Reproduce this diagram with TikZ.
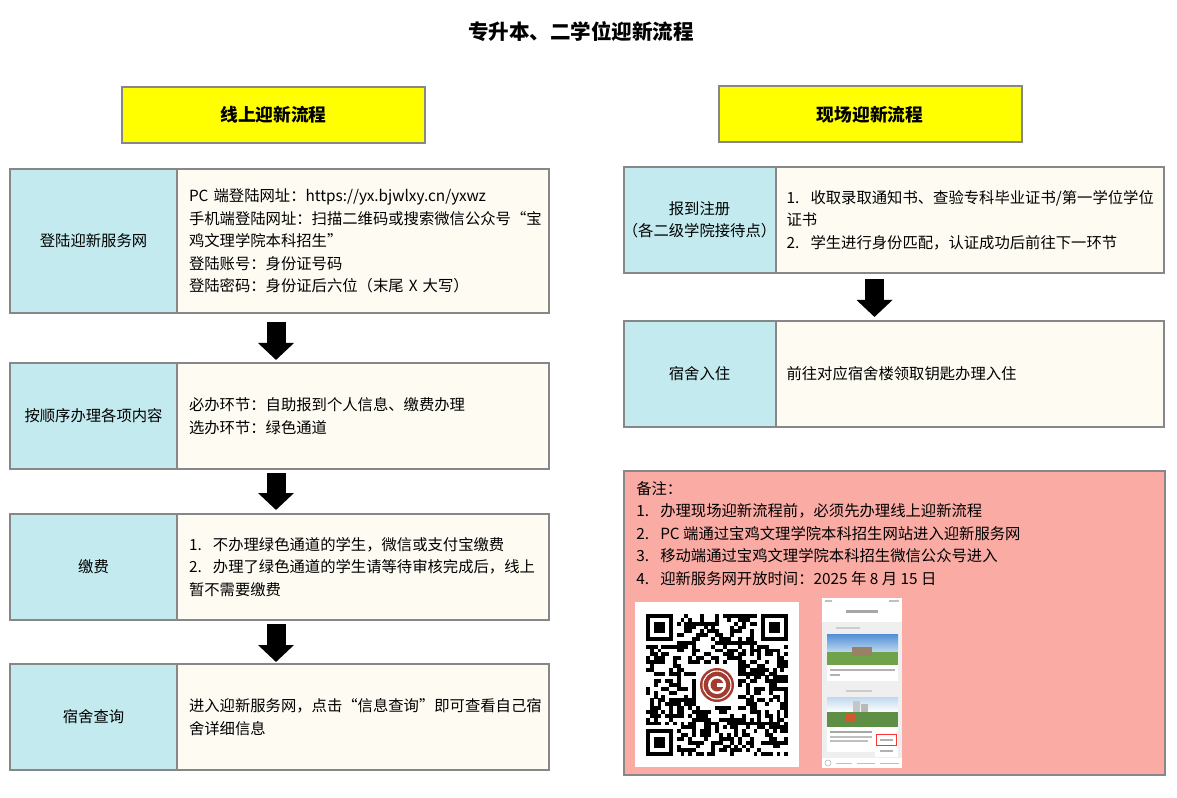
\documentclass[tikz,border=0pt]{standalone}
\usepackage{fontspec}
\setmainfont{Noto Sans CJK SC}
\usepackage{tikz}
\usetikzlibrary{positioning,arrows.meta}
\newlength{\upx}
\setlength{\upx}{0.75pt}
\definecolor{boxgray}{HTML}{878787}
\definecolor{lblblue}{HTML}{C2EAEF}
\definecolor{cntcream}{HTML}{FEFBF3}
\definecolor{hdryellow}{HTML}{FFFF00}
\definecolor{notepink}{HTML}{F9ABA4}
\definecolor{logored}{HTML}{A53A2E}
\definecolor{phonegray}{HTML}{EFEFEF}
\definecolor{skyblue}{HTML}{4F8FD6}
\definecolor{skylight}{HTML}{BFD8EE}
\definecolor{grassgreen}{HTML}{6FA24A}
\definecolor{treegreen}{HTML}{5E8F45}
\newcommand{\numitem}[1]{\makebox[24\upx][l]{#1}}
\tikzstyle{title} = [font=\fontsize{15.4}{18}\selectfont\bfseries]
\tikzstyle{header} = [draw=boxgray, line width=1.5pt, fill=hdryellow, minimum width=303\upx, minimum height=56\upx, font=\fontsize{13.3}{16}\selectfont\bfseries]
\tikzstyle{steplabel} = [draw=boxgray, line width=1.5pt, fill=lblblue, outer sep=0pt, inner xsep=0pt, align=center]
\tikzstyle{stepinfo} = [draw=boxgray, line width=1.5pt, fill=cntcream, outer sep=0pt, inner xsep=12\upx, align=left]
\tikzstyle{notebox} = [draw=boxgray, line width=1.5pt, fill=notepink, outer sep=0pt]
\tikzstyle{bigarrow} = [line width=19\upx, -{Triangle[width=26.25pt,length=12.75pt]}, shorten <=5\upx, shorten >=3\upx]

\begin{document}
\begin{tikzpicture}[x=0.75pt, y=-0.75pt, every node/.style={font=\fontsize{11.5}{16.9}\selectfont}]
	\useasboundingbox (0,0) rectangle (1177,798);
	\node[title] (main) at (581,32) {专升本、二学位迎新流程};
	\node[header] (online) at (273.5,115) {线上迎新流程};
	\node[header] (onsite) at (870,114.5) {现场迎新流程};

	\node[steplabel, minimum width=167\upx, minimum height=144\upx, anchor=north west] (login) at (10,169) {登陆迎新服务网};
	\node[stepinfo, text width=348\upx, minimum height=144\upx, right=0pt of login] (logininfo) {
		PC 端登陆网址：https://yx.bjwlxy.cn/yxwz\\
		手机端登陆网址：扫描二维码或搜索微信公众号“宝\\
		鸡文理学院本科招生”\\
		登陆账号：身份证号码\\
		登陆密码：身份证后六位（末尾 X 大写）};
	\node[steplabel, minimum width=167\upx, minimum height=106\upx, below=50\upx of login] (order) {按顺序办理各项内容};
	\node[stepinfo, text width=348\upx, minimum height=106\upx, right=0pt of order] (orderinfo) {
		必办环节：自助报到个人信息、缴费办理\\
		选办环节：绿色通道};
	\node[steplabel, minimum width=167\upx, minimum height=106\upx, below=45\upx of order] (fee) {缴费};
	\node[stepinfo, text width=348\upx, minimum height=106\upx, right=0pt of fee] (feeinfo) {
		\numitem{1.}不办理绿色通道的学生，微信或支付宝缴费\\
		\numitem{2.}办理了绿色通道的学生请等待审核完成后，线上\\
		暂不需要缴费};
	\node[steplabel, minimum width=167\upx, minimum height=106\upx, below=44\upx of fee] (dormcheck) {宿舍查询};
	\node[stepinfo, text width=348\upx, minimum height=106\upx, right=0pt of dormcheck] (dormcheckinfo) {
		进入迎新服务网，点击“信息查询”即可查看自己宿\\
		舍详细信息};

	\draw[bigarrow, shorten <=9\upx] ([xshift=99\upx]login.south east) -- ([xshift=99\upx]order.north east);
	\draw[bigarrow, shorten <=4\upx, shorten >=4\upx] ([xshift=99\upx]order.south east) -- ([xshift=99\upx]fee.north east);
	\draw[bigarrow, shorten <=4\upx, shorten >=2\upx] ([xshift=99\upx]fee.south east) -- ([xshift=99\upx]dormcheck.north east);

	\node[steplabel, minimum width=152\upx, minimum height=106\upx, anchor=north west] (register) at (623.5,167) {报到注册\\\hspace*{-.3em}（各二级学院接待点）\hspace*{-.3em}};
	\node[stepinfo, inner xsep=11\upx, text width=366\upx, minimum height=106\upx, right=0pt of register] (registerinfo) {
		\numitem{1.}收取录取通知书、查验专科毕业证书/第一学位学位\\
		证书\\
		\numitem{2.}学生进行身份匹配，认证成功后前往下一环节};
	\node[steplabel, minimum width=152\upx, minimum height=106\upx, below=48\upx of register] (dorm) {宿舍入住};
	\node[stepinfo, inner xsep=11\upx, text width=366\upx, minimum height=106\upx, right=0pt of dorm] (dorminfo) {前往对应宿舍楼领取钥匙办理入住};
	\draw[bigarrow, shorten <=6\upx, shorten >=4\upx] ([xshift=99\upx]register.south east) -- ([xshift=99\upx]dorm.north east);

	\node[notebox, minimum width=541\upx, minimum height=304\upx, anchor=north west] (notes) at (624,471) {};
	\node[anchor=north west, align=left, inner sep=0pt] (notetext) at (636,481) {
		备注：\\
		\numitem{1.}办理现场迎新流程前，必须先办理线上迎新流程\\
		\numitem{2.}PC 端通过宝鸡文理学院本科招生网站进入迎新服务网\\
		\numitem{3.}移动端通过宝鸡文理学院本科招生微信公众号进入\\
		\numitem{4.}迎新服务网开放时间：2025 年 8 月 15 日};

	\fill[white] (635,602) rectangle (799,767);
	\pgfmathsetseed{11}
	\foreach \i in {0,...,36}{
		\foreach \j in {0,...,36}{
			\pgfmathtruncatemacro{\qrbit}{(rnd<0.5)*(1-(\i<8)*(\j<8))*(1-(\i>28)*(\j<8))*(1-(\i<8)*(\j>28))*(1-(\i>12)*(\i<24)*(\j>12)*(\j<24))}
			\ifnum\qrbit=1
				\fill (646+3.84*\i,614+3.84*\j) rectangle ++(3.9,3.9);
			\fi
		}
	}
	\foreach \fx/\fy in {646/614, 761.2/614, 646/729.2}{
		\fill (\fx,\fy) rectangle ++(26.9,26.9);
		\fill[white] (\fx+3.84,\fy+3.84) rectangle ++(19.2,19.2);
		\fill (\fx+7.68,\fy+7.68) rectangle ++(11.5,11.5);
	}
	\fill[white, rounded corners=2pt] (697,665) rectangle (737,705);
	\fill[logored] (717,685) circle (17);
	\draw[white, line width=0.8pt] (717,685) circle (14);
	\fill[white] (717,685) circle (9);
	\fill[logored] (717,685) circle (6.5);
	\fill[white] (717,683) rectangle (726,687);

	\fill[phonegray] (822,598) rectangle (902,768);
	\fill[white] (822,598) rectangle (902,622);
	\fill[gray!50] (825,600) rectangle (832,601.5);
	\fill[gray!50] (889,600) rectangle (899,601.5);
	\fill[gray!70] (846,610) rectangle (878,612.5);
	\fill[gray!40] (836,627) rectangle (860,628.5);
	\fill[white] (827,634) rectangle (898,681);
	\shade[top color=skyblue, bottom color=skylight] (827,634) rectangle (898,652);
	\fill[grassgreen] (827,652) rectangle (898,665);
	\fill[gray!60!brown] (852,647) rectangle (872,656);
	\fill[gray!60] (830,669) rectangle (895,671);
	\fill[gray!60] (830,674) rectangle (840,676);
	\fill[gray!40] (846,690) rectangle (872,691.5);
	\fill[white] (827,697) rectangle (898,752);
	\shade[top color=skylight, bottom color=white] (827,697) rectangle (898,712);
	\fill[gray!45] (853,701) rectangle (860,720);
	\fill[gray!55] (861,704) rectangle (868,720);
	\fill[treegreen] (827,712) rectangle (898,727);
	\fill[brown!70!red] (846,714) rectangle (856,722);
	\fill[gray!70] (830,731) rectangle (872,733);
	\fill[gray!50] (830,736) rectangle (872,737.5);
	\fill[gray!50] (830,740) rectangle (868,741.5);
	\fill[white] (875,733) rectangle (898,757);
	\draw[red!80, line width=0.5pt] (876.5,734) rectangle (896.5,745);
	\fill[gray!60] (880,739) rectangle (893,740.5);
	\fill[gray!60] (880,750) rectangle (893,751.5);
	\fill[white] (822,758) rectangle (902,768);
	\draw[gray!60, line width=0.4pt] (828,763) circle (3);
	\fill[gray!50] (836,762.5) rectangle (852,764);
	\fill[gray!50] (857,762.5) rectangle (875,764);
	\fill[gray!50] (880,762.5) rectangle (899,764);
\end{tikzpicture}
\end{document}
